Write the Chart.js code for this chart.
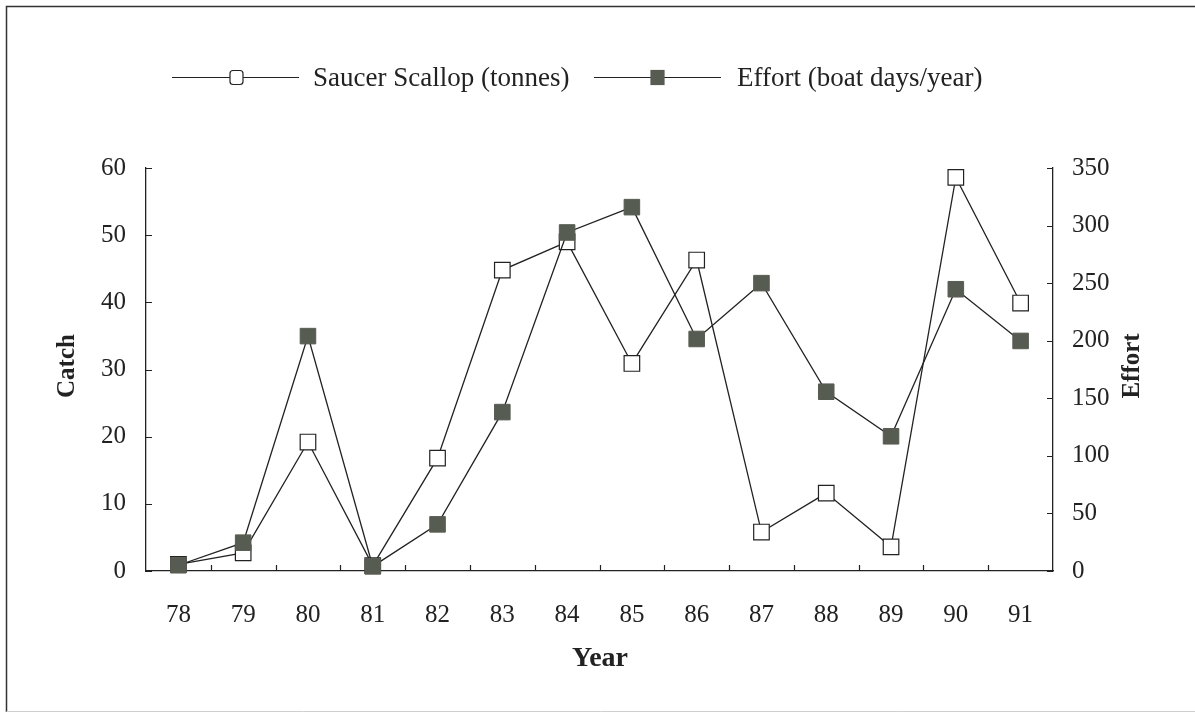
<!DOCTYPE html>
<html>
<head>
<meta charset="utf-8">
<script src="https://cdn.jsdelivr.net/npm/chart.js@4.4.0/dist/chart.umd.min.js"></script>
<style>
  html, body { margin: 0; padding: 0; background: #fff; }
  #wrap { width: 1195px; height: 713px; position: relative; }
  canvas { display: block; }
</style>
</head>
<body>
<div id="wrap"><canvas id="c" width="1195" height="713"></canvas></div>
<script>
const categories = ['78','79','80','81','82','83','84','85','86','87','88','89','90','91'];
const catchValues = [1.0, 2.7, 19.2, 0.8, 16.8, 44.8, 49.0, 30.9, 46.3, 5.8, 11.6, 3.6, 58.6, 39.9];
const effortValues = [5, 24.6, 204, 4, 40.5, 138, 294, 316, 201.5, 250, 155.7, 117, 244.7, 199.8];
const catchLabel = 'Saucer Scallop (tonnes)';
const effortLabel = 'Effort (boat days/year)';
const leftTitle = 'Catch';
const rightTitle = 'Effort';
const bottomTitle = 'Year';

const INK = '#222222';
const DARK = '#575c52';
const SERIF = '"Liberation Serif", "Times New Roman", serif';

const decor = {
  id: 'decor',
  beforeDraw(chart) {
    const ctx = chart.ctx;
    ctx.save();
    ctx.fillStyle = '#ffffff';
    ctx.fillRect(0, 0, chart.width, chart.height);
    ctx.strokeStyle = '#333';
    ctx.lineWidth = 1.5;
    ctx.beginPath();
    ctx.moveTo(6.5, 712); ctx.lineTo(6.5, 6.5); ctx.lineTo(1195, 6.5);
    ctx.stroke();
    ctx.strokeStyle = '#cfcfcf';
    ctx.lineWidth = 1;
    ctx.beginPath();
    ctx.moveTo(6.5, 711.5); ctx.lineTo(1195, 711.5);
    ctx.stroke();
    ctx.restore();
  },
  afterDraw(chart) {
    const ctx = chart.ctx;
    const a = chart.chartArea;
    const x = chart.scales.x, y = chart.scales.y, y1 = chart.scales.y1;
    ctx.save();
    ctx.strokeStyle = INK;
    ctx.lineWidth = 1.2;
    ctx.beginPath();
    y.ticks.forEach(t => {
      const p = Math.round(y.getPixelForValue(t.value)) + 0.5;
      ctx.moveTo(a.left, p); ctx.lineTo(a.left + 6, p);
    });
    y1.ticks.forEach(t => {
      const p = Math.round(y1.getPixelForValue(t.value)) + 0.5;
      ctx.moveTo(a.right, p); ctx.lineTo(a.right - 6, p);
    });
    for (let i = 1; i < categories.length; i++) {
      const p = Math.round((x.getPixelForValue(i - 1) + x.getPixelForValue(i)) / 2) + 0.5;
      ctx.moveTo(p, a.bottom); ctx.lineTo(p, a.bottom - 6);
    }
    ctx.stroke();

    ctx.fillStyle = INK;
    ctx.textAlign = 'center';
    ctx.textBaseline = 'middle';
    ctx.font = 'bold 25px ' + SERIF;
    ctx.save();
    ctx.translate(68, 366); ctx.rotate(-Math.PI / 2);
    ctx.fillText(leftTitle, 0, 0);
    ctx.restore();
    ctx.save();
    ctx.translate(1133, 366); ctx.rotate(-Math.PI / 2);
    ctx.fillText(rightTitle, 0, 0);
    ctx.restore();
    ctx.font = 'bold 28px ' + SERIF;
    ctx.fillText(bottomTitle, 600, 659);

    const ly = 77.5;
    ctx.lineWidth = 1.2;
    ctx.strokeStyle = INK;
    ctx.beginPath();
    ctx.moveTo(172, ly); ctx.lineTo(299, ly);
    ctx.moveTo(594, ly); ctx.lineTo(721, ly);
    ctx.stroke();
    ctx.fillStyle = '#fff';
    ctx.beginPath();
    ctx.roundRect(230, ly - 7, 13, 14, 3);
    ctx.fill(); ctx.stroke();
    ctx.fillStyle = DARK;
    ctx.fillRect(651, ly - 7, 13, 14);
    ctx.strokeStyle = DARK;
    ctx.strokeRect(651, ly - 7, 13, 14);
    ctx.fillStyle = INK;
    ctx.textAlign = 'left';
    ctx.font = '27px ' + SERIF;
    ctx.fillText(catchLabel, 313, ly + 1);
    ctx.fillText(effortLabel, 737, ly + 1);
    ctx.restore();
  }
};

new Chart(document.getElementById('c'), {
  type: 'line',
  data: {
    labels: categories,
    datasets: [
      {
        label: catchLabel,
        data: catchValues,
        yAxisID: 'y',
        order: 1,
        borderColor: INK,
        borderWidth: 1.3,
        pointStyle: 'rect',
        pointRadius: 11,
        pointHoverRadius: 11,
        pointBackgroundColor: '#ffffff',
        pointBorderColor: INK,
        pointBorderWidth: 1.2,
        tension: 0,
        clip: false,
        fill: false
      },
      {
        label: effortLabel,
        data: effortValues,
        yAxisID: 'y1',
        order: 0,
        borderColor: INK,
        borderWidth: 1.3,
        pointStyle: 'rect',
        pointRadius: 11,
        pointHoverRadius: 11,
        pointBackgroundColor: DARK,
        pointBorderColor: DARK,
        pointBorderWidth: 1,
        tension: 0,
        clip: false,
        fill: false
      }
    ]
  },
  options: {
    responsive: false,
    animation: false,
    devicePixelRatio: 1,
    layout: { padding: { top: 168, left: 0, right: 0, bottom: 0 } },
    plugins: { legend: { display: false }, tooltip: { enabled: false } },
    scales: {
      x: {
        type: 'category',
        offset: true,
        grid: { display: false },
        border: { display: true, color: INK, width: 1.3 },
        ticks: { color: INK, font: { family: SERIF, size: 25 }, padding: 21, maxRotation: 0, autoSkip: false },
        afterFit(s) { s.height = 142; }
      },
      y: {
        position: 'left',
        min: 0, max: 60,
        grid: { display: false },
        border: { display: true, color: INK, width: 1.3 },
        ticks: { stepSize: 10, color: INK, font: { family: SERIF, size: 25 }, padding: 12 },
        afterFit(s) { s.width = 146; }
      },
      y1: {
        position: 'right',
        min: 0, max: 350,
        grid: { display: false },
        border: { display: true, color: INK, width: 1.3 },
        ticks: { stepSize: 50, color: INK, font: { family: SERIF, size: 25 }, padding: 11 },
        afterFit(s) { s.width = 142; }
      }
    }
  },
  plugins: [decor]
});
</script>
</body>
</html>
